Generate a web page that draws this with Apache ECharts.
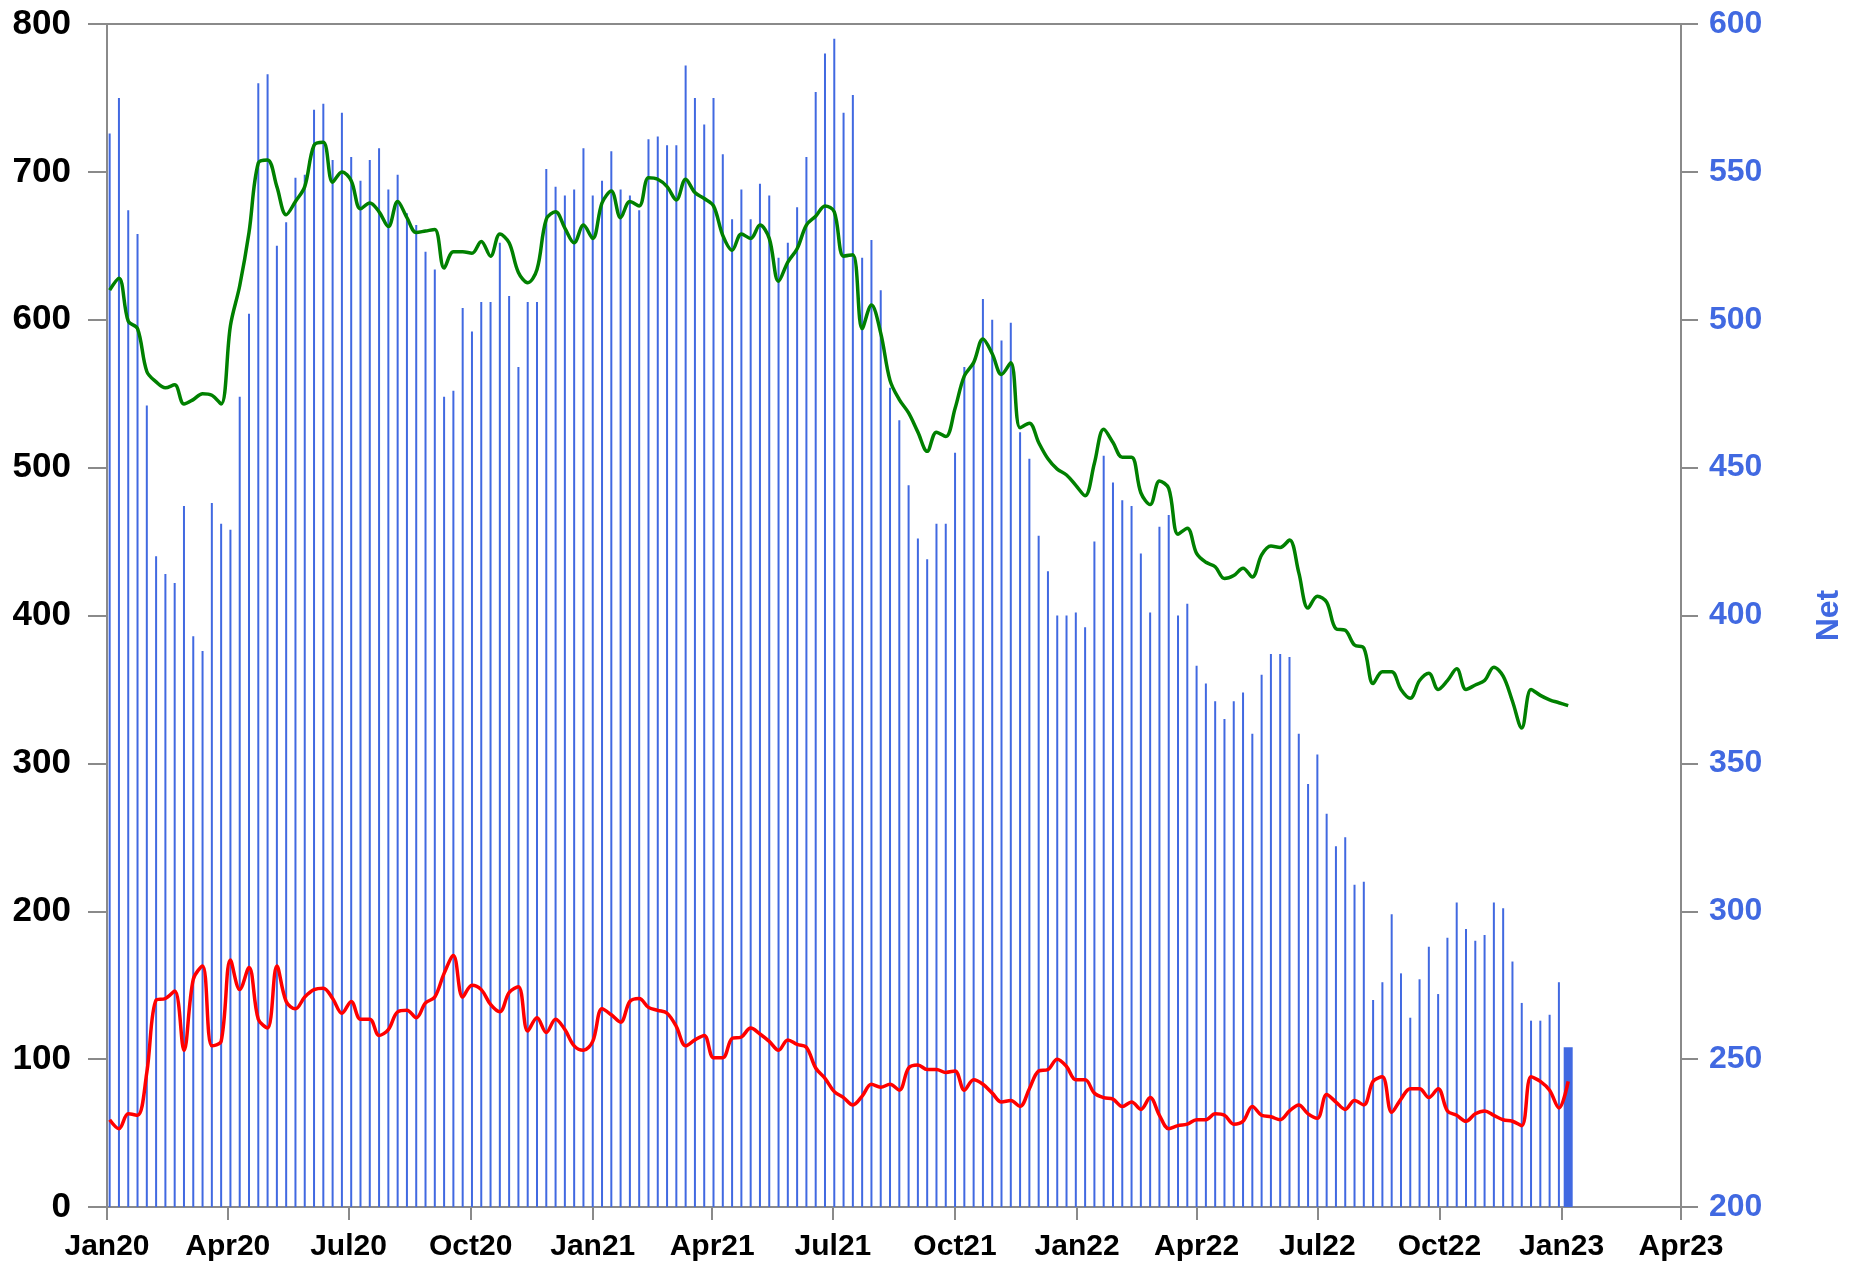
<!DOCTYPE html>
<html>
<head>
<meta charset="utf-8">
<script src="https://cdn.jsdelivr.net/npm/echarts@6/dist/echarts.min.js"></script>
<style>
html,body{margin:0;padding:0;background:#fff;}
#chart{width:1860px;height:1268px;}
</style>
</head>
<body>
<div id="chart"></div>
<script>
// Weekly dates (Fridays)
const weekDates = [
'2020-01-03','2020-01-10','2020-01-17','2020-01-24','2020-01-31','2020-02-07','2020-02-14','2020-02-21','2020-02-28',
'2020-03-06','2020-03-13','2020-03-20','2020-03-27','2020-04-03','2020-04-10','2020-04-17','2020-04-24',
'2020-05-01','2020-05-08','2020-05-15','2020-05-22','2020-05-29','2020-06-05','2020-06-12','2020-06-19','2020-06-26',
'2020-07-03','2020-07-10','2020-07-17','2020-07-24','2020-07-31','2020-08-07','2020-08-14','2020-08-21','2020-08-28',
'2020-09-04','2020-09-11','2020-09-18','2020-09-25','2020-10-02','2020-10-09','2020-10-16','2020-10-23','2020-10-30',
'2020-11-06','2020-11-13','2020-11-20','2020-11-27','2020-12-04','2020-12-11','2020-12-18','2020-12-25',
'2021-01-01','2021-01-08','2021-01-15','2021-01-22','2021-01-29','2021-02-05','2021-02-12','2021-02-19','2021-02-26',
'2021-03-05','2021-03-12','2021-03-19','2021-03-26','2021-04-02','2021-04-09','2021-04-16','2021-04-23','2021-04-30',
'2021-05-07','2021-05-14','2021-05-21','2021-05-28','2021-06-04','2021-06-11','2021-06-18','2021-06-25',
'2021-07-02','2021-07-09','2021-07-16','2021-07-23','2021-07-30','2021-08-06','2021-08-13','2021-08-20','2021-08-27',
'2021-09-03','2021-09-10','2021-09-17','2021-09-24','2021-10-01','2021-10-08','2021-10-15','2021-10-22','2021-10-29',
'2021-11-05','2021-11-12','2021-11-19','2021-11-26','2021-12-03','2021-12-10','2021-12-17','2021-12-24','2021-12-31',
'2022-01-07','2022-01-14','2022-01-21','2022-01-28','2022-02-04','2022-02-11','2022-02-18','2022-02-25',
'2022-03-04','2022-03-11','2022-03-18','2022-03-25','2022-04-01','2022-04-08','2022-04-15','2022-04-22','2022-04-29',
'2022-05-06','2022-05-13','2022-05-20','2022-05-27','2022-06-03','2022-06-10','2022-06-17','2022-06-24',
'2022-07-01','2022-07-08','2022-07-15','2022-07-22','2022-07-29','2022-08-05','2022-08-12','2022-08-19','2022-08-26',
'2022-09-02','2022-09-09','2022-09-16','2022-09-23','2022-09-30','2022-10-07','2022-10-14','2022-10-21','2022-10-28',
'2022-11-04','2022-11-11','2022-11-18','2022-11-25','2022-12-02','2022-12-09','2022-12-16','2022-12-23','2022-12-30',
'2023-01-06'
];

// Net (right axis, bars)
const netValues = [
563,575,537,529,471,420,414,411,437,393,388,438,431,429,474,502,580,583,525,533,
548,549,571,573,554,570,555,547,554,558,544,549,536,532,523,517,474,476,504,496,
506,506,526,508,484,506,506,551,545,542,544,558,542,547,557,544,542,537,561,562,
559,559,586,575,566,575,556,534,544,534,546,542,521,526,538,555,577,590,595,570,
576,521,527,510,477,466,444,426,419,431,431,455,484,485,507,500,493,499,462,453,
427,415,400,400,401,396,425,454,445,439,437,421,401,430,434,400,404,383,377,371,
365,371,374,360,380,387,387,386,360,343,353,333,322,325,309,310,270,276,299,279,
264,277,288,272,291,303,294,290,292,303,301,283,269,263,263,265,276,254
];

// Green line (left axis)
const greenValues = [
620,628,599,594,565,558,554,556,543,546,550,549,543,596,623,659,706,708,690,671,
680,690,718,720,693,700,694,675,679,673,663,680,669,659,660,661,635,646,646,645,
653,643,658,652,632,625,634,668,673,662,652,664,655,679,687,669,680,677,696,695,
690,681,695,686,682,677,657,647,658,655,664,655,626,639,648,664,670,677,673,643,
644,594,610,591,559,546,537,524,511,524,521,540,562,571,587,577,563,571,527,530,
517,506,499,495,488,481,503,526,517,507,507,483,475,491,486,455,459,442,436,433,
425,427,432,426,441,447,446,451,429,405,413,409,391,390,380,378,354,362,362,350,
344,356,361,350,356,364,350,353,356,365,359,342,324,350,346,343,341,339
];

// Red line (left axis)
const redValues = [
59,53,63,62,91,140,141,146,106,154,163,109,112,167,147,162,127,121,163,139,
134,142,147,148,141,131,139,127,127,116,120,132,133,128,138,142,158,170,142,150,
147,137,132,145,149,119,128,118,127,120,109,106,112,134,130,125,139,141,135,133,
131,122,109,113,116,101,101,114,115,121,117,112,106,113,110,108,94,87,78,74,
69,75,83,81,83,79,94,96,93,93,91,92,79,86,83,77,71,72,68,80,
92,93,100,95,86,86,77,74,73,68,71,66,74,62,53,55,56,59,59,63,
62,56,58,68,62,61,59,65,69,63,60,76,71,66,72,69,85,88,64,73,
80,80,74,80,65,62,58,63,65,62,59,58,55,88,85,79,67,85
];

// X axis ticks / labels
const tickDates = ['2020-01-01','2020-04-01','2020-07-01','2020-10-01','2021-01-01','2021-04-01','2021-07-01',
  '2021-10-01','2022-01-01','2022-04-01','2022-07-01','2022-10-01','2023-01-01','2023-04-01'];
const tickLabels = ['Jan20','Apr20','Jul20','Oct20','Jan21','Apr21','Jul21','Oct21','Jan22','Apr22','Jul22','Oct22','Jan23','Apr23'];

const toTs = s => { const p = s.split('-').map(Number); return Date.UTC(p[0], p[1]-1, p[2]); };
const tickTs = tickDates.map(toTs);
const ts = weekDates.map(toTs);

const lastIdx = ts.length - 1;
const barData = ts.slice(0, lastIdx).map((t, i) => [t, netValues[i]]);
const lastBarData = [[ts[lastIdx], netValues[lastIdx]]];
const greenData = ts.map((t, i) => [t, greenValues[i]]);
const redData = ts.map((t, i) => [t, redValues[i]]);

const AX = '#8a8a8a';
const BLUE = '#4169E1';
const FONT = '"Liberation Sans", Arial, Helvetica, sans-serif';

const chart = echarts.init(document.getElementById('chart'));
const xMin = tickTs[0], xMax = tickTs[tickTs.length - 1];
chart.setOption({
  animation: false,
  grid: {left: 107, right: 179, top: 24, bottom: 61, show: true, borderColor: AX, borderWidth: 2, containLabel: false},
  xAxis: [{
    type: 'value', min: xMin, max: xMax, scale: true,
    axisLine: {show: true, lineStyle: {color: AX, width: 2}},
    axisTick: {show: true, length: 13, lineStyle: {color: AX, width: 2}, customValues: tickTs},
    axisLabel: {customValues: tickTs, color: '#000', fontFamily: FONT, fontWeight: 'bold', fontSize: 30, margin: 25,
      formatter: v => { const i = tickTs.indexOf(v); return i >= 0 ? tickLabels[i] : ''; }, hideOverlap: false,
      showMinLabel: true, showMaxLabel: true},
    splitLine: {show: false}
  }, {
    type: 'value', min: xMin, max: xMax, scale: true, show: false
  }],
  yAxis: [{
    type: 'value', min: 0, max: 800, interval: 100, position: 'left',
    axisLine: {show: true, lineStyle: {color: AX, width: 2}},
    axisTick: {show: true, length: 19, lineStyle: {color: AX, width: 2}},
    axisLabel: {color: '#000', fontFamily: FONT, fontWeight: 'bold', fontSize: 35, margin: 36},
    splitLine: {show: false}
  }, {
    type: 'value', min: 200, max: 600, interval: 50, position: 'right',
    name: 'Net', nameLocation: 'middle', nameRotate: 90, nameGap: 132,
    nameTextStyle: {color: BLUE, fontFamily: FONT, fontWeight: 'bold', fontSize: 32},
    axisLine: {show: true, lineStyle: {color: AX, width: 2}},
    axisTick: {show: true, length: 17, lineStyle: {color: AX, width: 2}},
    axisLabel: {color: BLUE, fontFamily: FONT, fontWeight: 'bold', fontSize: 32, margin: 28},
    splitLine: {show: false}
  }],
  series: [{
    type: 'bar', xAxisIndex: 0, yAxisIndex: 1, data: barData, barWidth: 2,
    itemStyle: {color: BLUE}, clip: true, z: 1
  }, {
    type: 'bar', xAxisIndex: 1, yAxisIndex: 1, data: lastBarData, barWidth: 9,
    itemStyle: {color: BLUE}, clip: true, z: 1
  }, {
    type: 'line', xAxisIndex: 0, yAxisIndex: 0, data: greenData, smooth: 0.35, showSymbol: false, symbol: 'none',
    lineStyle: {color: '#008000', width: 3.5}, z: 3
  }, {
    type: 'line', xAxisIndex: 0, yAxisIndex: 0, data: redData, smooth: 0.35, showSymbol: false, symbol: 'none',
    lineStyle: {color: '#ff0000', width: 3.5}, z: 4
  }]
});
</script>
</body>
</html>
